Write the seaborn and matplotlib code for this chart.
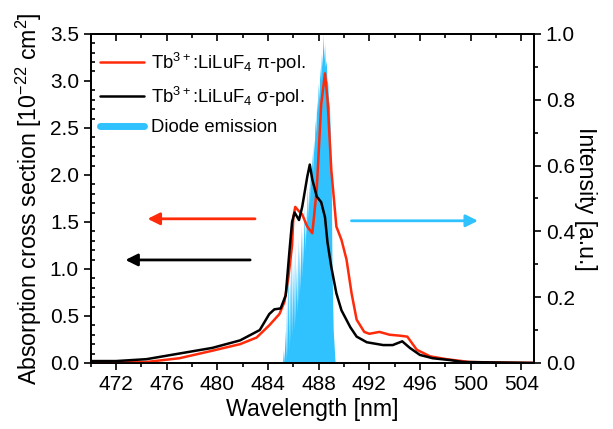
import matplotlib
matplotlib.use("Agg")
import matplotlib.pyplot as plt
import seaborn as sns
from matplotlib.lines import Line2D
from matplotlib.ticker import MultipleLocator

# Tb3+:LiLuF4 absorption, pi polarisation
wl_pi = [470.0, 472.0, 474.4, 477.0, 479.6, 481.8, 483.1, 484.1, 484.9, 485.3, 485.6,
         485.9, 486.0, 486.15, 486.4, 486.7, 487.1, 487.5, 487.85, 488.2, 488.5, 488.7,
         489.0, 489.4, 489.8, 490.2, 490.6, 491.0, 491.6, 492.0, 492.8, 493.6, 494.4,
         495.0, 495.75, 496.8, 498.1, 499.9, 502.0, 505.0]
abs_pi = [0.0, 0.005, 0.01, 0.05, 0.13, 0.2, 0.27, 0.4, 0.52, 0.65, 0.9,
          1.25, 1.55, 1.66, 1.62, 1.58, 1.45, 1.38, 1.85, 2.75, 3.08, 2.8,
          2.05, 1.45, 1.31, 1.1, 0.74, 0.46, 0.33, 0.31, 0.33, 0.3, 0.29,
          0.28, 0.14, 0.07, 0.04, 0.01, 0.005, 0.0]

# Tb3+:LiLuF4 absorption, sigma polarisation
wl_sigma = [470.0, 472.0, 474.4, 477.0, 479.6, 481.8, 483.35, 484.1, 484.5, 485.0, 485.4,
            485.7, 485.9, 486.1, 486.45, 486.7, 487.1, 487.3, 487.5, 487.85, 488.2, 488.5,
            488.7, 489.0, 489.4, 489.8, 490.5, 491.0, 491.8, 493.1, 493.85, 494.6, 495.2,
            496.0, 497.0, 498.4, 499.4, 502.0, 505.0]
abs_sigma = [0.02, 0.02, 0.04, 0.1, 0.16, 0.24, 0.35, 0.52, 0.57, 0.58, 0.72,
             1.2, 1.5, 1.6, 1.52, 1.66, 1.98, 2.11, 1.95, 1.77, 1.71, 1.55,
             1.28, 1.02, 0.74, 0.56, 0.38, 0.28, 0.22, 0.19, 0.19, 0.23, 0.16,
             0.085, 0.05, 0.03, 0.01, 0.005, 0.0]

# diode emission spectrum (normalised), mode peaks and gaps
diode_wl = [485.15, 485.22, 485.27, 485.35, 485.40, 485.47, 485.52, 485.60, 485.65, 485.72,
            485.77, 485.85, 485.90, 485.97, 486.02, 486.10, 486.15, 486.22, 486.27, 486.35,
            486.40, 486.47, 486.52, 486.60, 486.65, 486.72, 486.77, 486.85, 486.90, 486.97,
            487.02, 487.10, 487.15, 487.22, 487.27, 487.35, 487.40, 487.47, 487.52, 487.60,
            487.65, 487.72, 487.77, 487.85, 487.90, 487.97, 488.02, 488.10, 488.15, 488.22,
            488.27, 488.35, 488.40, 488.47, 488.52, 488.60, 488.65, 488.72, 488.77, 488.85,
            488.92, 489.00, 489.05, 489.15, 489.30]
diode_int = [0.0, 0.04, 0.0, 0.1, 0.01, 0.2, 0.02, 0.34, 0.04, 0.28,
             0.06, 0.4, 0.08, 0.3, 0.1, 0.36, 0.12, 0.3, 0.15, 0.38,
             0.18, 0.35, 0.22, 0.42, 0.26, 0.4, 0.3, 0.48, 0.34, 0.47,
             0.38, 0.54, 0.44, 0.55, 0.48, 0.6, 0.54, 0.64, 0.58, 0.68,
             0.64, 0.74, 0.7, 0.8, 0.76, 0.85, 0.8, 0.9, 0.86, 0.94,
             0.9, 1.0, 0.92, 0.97, 0.9, 0.92, 0.86, 0.85, 0.8, 0.78,
             0.7, 0.55, 0.3, 0.1, 0.0]

labels = ["Tb$^{\\mathrm{3+}}$:LiLuF$_{\\mathrm{4}}$ \u03c0-pol.",
          "Tb$^{\\mathrm{3+}}$:LiLuF$_{\\mathrm{4}}$ \u03c3-pol.",
          "Diode emission"]

red = "#ff2a0a"
blue = "#2fc2ff"

sns.set_style("ticks")
plt.rcParams["font.family"] = ["Liberation Sans", "DejaVu Sans"]
plt.rcParams["mathtext.fontset"] = "custom"
plt.rcParams["mathtext.rm"] = "Liberation Sans"
plt.rcParams["mathtext.it"] = "Liberation Sans:italic"
plt.rcParams["axes.linewidth"] = 1.3
for key in ["text.color", "axes.labelcolor", "axes.edgecolor", "xtick.color", "ytick.color"]:
    plt.rcParams[key] = "black"

fig = plt.figure(figsize=(6.13, 4.29), dpi=100)
ax1 = fig.add_axes([0.148, 0.154, 0.723, 0.767])
ax2 = ax1.twinx()

ax2.fill_between(diode_wl, diode_int, color=blue, lw=0)
sns.lineplot(x=wl_pi, y=abs_pi, ax=ax1, color=red, lw=1.8)
sns.lineplot(x=wl_sigma, y=abs_sigma, ax=ax1, color="black", lw=1.8)

ax1.set_zorder(ax2.get_zorder() + 1)
ax1.patch.set_visible(False)

ax1.set_xlim(470, 505)
ax1.set_ylim(0, 3.5)
ax2.set_ylim(0, 1)
ax1.xaxis.set_major_locator(MultipleLocator(4))
ax1.xaxis.set_minor_locator(MultipleLocator(2))
ax1.yaxis.set_major_locator(MultipleLocator(0.5))
ax1.yaxis.set_minor_locator(MultipleLocator(0.1))
ax2.yaxis.set_major_locator(MultipleLocator(0.2))
ax2.yaxis.set_minor_locator(MultipleLocator(0.1))

ax1.tick_params(axis="x", which="major", direction="out", length=5, width=1.2, labelsize=15)
ax1.tick_params(axis="x", which="minor", direction="out", length=3, width=1.2)
ax1.tick_params(axis="y", which="major", direction="out", length=5, width=1.2, labelsize=15)
ax1.tick_params(axis="y", which="minor", direction="in", length=3, width=1.2)
ax2.tick_params(axis="y", which="major", direction="out", length=5, width=1.2, labelsize=15)
ax2.tick_params(axis="y", which="minor", direction="out", length=3, width=1.2)

top = ax1.secondary_xaxis("top")
top.xaxis.set_major_locator(MultipleLocator(4))
top.xaxis.set_minor_locator(MultipleLocator(2))
top.tick_params(which="major", direction="in", length=5, width=1.2, labeltop=False)
top.tick_params(which="minor", direction="in", length=3, width=1.2)

ax1.set_xlabel("Wavelength [nm]", fontsize=16.7, labelpad=3)
ax1.set_ylabel("Absorption cross section [10$^{\\mathrm{-22}}$ cm$^{\\mathrm{2}}$]", fontsize=16.7)
ax2.set_ylabel("Intensity [a.u.]", fontsize=16.7, rotation=270, labelpad=16)

arrow = dict(arrowstyle="-|>", lw=2, mutation_scale=18)
ax1.annotate("", xy=(0.122, 0.438), xytext=(0.377, 0.438), xycoords="axes fraction",
             arrowprops=dict(arrow, color=red))
ax1.annotate("", xy=(0.072, 0.313), xytext=(0.366, 0.313), xycoords="axes fraction",
             arrowprops=dict(arrow, color="black"))
ax1.annotate("", xy=(0.88, 0.432), xytext=(0.582, 0.432), xycoords="axes fraction",
             arrowprops=dict(arrow, color=blue))

handles = [Line2D([], [], color=red, lw=1.8),
           Line2D([], [], color="black", lw=1.8),
           Line2D([], [], color=blue, lw=5)]
ax1.legend(handles, labels, loc="upper left", bbox_to_anchor=(0.004, 0.972),
           frameon=False, fontsize=13.3, handlelength=2.4, handletextpad=0.35,
           labelspacing=0.55, borderaxespad=0)

fig.savefig("out.png", dpi=100)
